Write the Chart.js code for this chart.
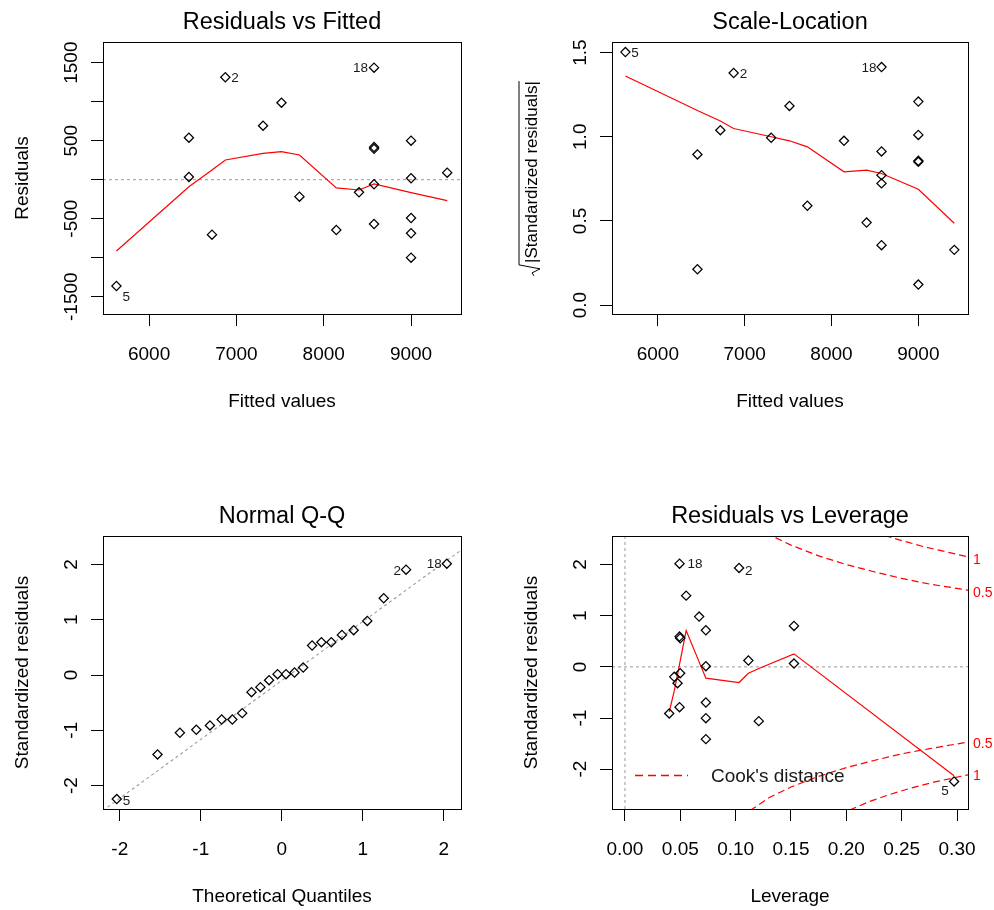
<!DOCTYPE html>
<html><head><meta charset="utf-8">
<script src="https://cdn.jsdelivr.net/npm/chart.js@4.4.1/dist/chart.umd.min.js"></script>
<style>
html,body{margin:0;padding:0;background:#fff;}
#wrap{position:relative;width:994px;height:910px;background:#fff;overflow:hidden;}
#wrap canvas{position:absolute;left:0;top:0;}
</style></head><body>
<div id="wrap">
<canvas id="c1" width="994" height="910"></canvas>
<canvas id="c2" width="994" height="910"></canvas>
<canvas id="c3" width="994" height="910"></canvas>
<canvas id="c4" width="994" height="910"></canvas>
</div>
<script>
// ---------------- DATA ----------------
// Panel 1: Residuals vs Fitted
const fittedX1 = [5626, 6873, 8576, 6456, 6456, 6720, 7305, 7516, 7722, 8144, 8404, 8576, 8576, 8576, 8576, 9000, 9000, 9000, 9000, 9000, 9414];
const residY1  = [-1363, 1313, 1436, 538, 35, -705, 692, 987, -218, -645, -162, 395, 418, -59, -568, 500, 18, -491, -687, -1000, 90];
const smoothX1 = [5626, 6456, 6720, 6873, 7305, 7516, 7722, 8144, 8404, 8576, 9000, 9414];
const smoothY1 = [-914, -90, 124, 253, 338, 359, 317, -106, -132, -55, -167, -269];
const xTicks1 = [6000, 7000, 8000, 9000];
const xTickLabels1 = ['6000', '7000', '8000', '9000'];
const yTicks1 = [-1500, -1000, -500, 0, 500, 1000, 1500];
const yLabelVals1 = [-1500, -500, 500, 1500];
const yTickLabels1 = ['-1500', '-500', '500', '1500'];
const idIndex1 = [0, 1, 2];
const idText1 = ['5', '2', '18'];

// Panel 2: Scale-Location
const fittedX2 = [5626, 6873, 8576, 7516, 6720, 7305, 6456, 8144, 8576, 9000, 9000, 9000, 9000, 8576, 8576, 7722, 8404, 8576, 9414, 6456, 9000];
const sqrtY2   = [1.503, 1.379, 1.414, 1.183, 1.039, 0.994, 0.895, 0.976, 0.913, 1.209, 1.011, 0.857, 0.851, 0.772, 0.723, 0.590, 0.490, 0.356, 0.328, 0.213, 0.122];
const smoothX2 = [5626, 6456, 6720, 6873, 7305, 7516, 7722, 8144, 8404, 8576, 9000, 9414];
const smoothY2 = [1.361, 1.156, 1.094, 1.049, 1.000, 0.976, 0.940, 0.792, 0.802, 0.782, 0.688, 0.486];
const xTicks2 = [6000, 7000, 8000, 9000];
const xTickLabels2 = ['6000', '7000', '8000', '9000'];
const yTicks2 = [0, 0.5, 1.0, 1.5];
const yLabelVals2 = [0, 0.5, 1.0, 1.5];
const yTickLabels2 = ['0.0', '0.5', '1.0', '1.5'];
const idIndex2 = [0, 1, 2];
const idText2 = ['5', '2', '18'];

// Panel 3: Normal Q-Q
const qqX = [-2.037, -1.534, -1.258, -1.055, -0.887, -0.742, -0.611, -0.489, -0.374, -0.264, -0.157, -0.052, 0.052, 0.157, 0.264, 0.374, 0.489, 0.611, 0.742, 0.887, 1.055, 1.258, 1.534, 2.037];
const qqY = [-2.243, -1.436, -1.044, -0.990, -0.912, -0.804, -0.804, -0.689, -0.310, -0.219, -0.093, 0.016, 0.016, 0.046, 0.136, 0.534, 0.594, 0.594, 0.726, 0.811, 0.979, 1.389, 1.906, 2.014];
const qqLineX = [-2.21, 2.22];
const qqLineY = [-2.453, 2.266];
const xTicks3 = [-2, -1, 0, 1, 2];
const xTickLabels3 = ['-2', '-1', '0', '1', '2'];
const yTicks3 = [-2, -1, 0, 1, 2];
const yLabelVals3 = [-2, -1, 0, 1, 2];
const yTickLabels3 = ['-2', '-1', '0', '1', '2'];
const idIndex3 = [0, 22, 23];
const idText3 = ['5', '2', '18'];

// Panel 4: Residuals vs Leverage
const levX = [0.0493, 0.1031, 0.0553, 0.0670, 0.0731, 0.0493, 0.0499, 0.1527, 0.1115, 0.0731, 0.1527, 0.0499, 0.0445, 0.0475, 0.0400, 0.0493, 0.0731, 0.0731, 0.0731, 0.1209, 0.2973];
const levY = [2.018, 1.934, 1.393, 0.983, 0.716, 0.592, 0.560, 0.801, 0.124, 0.013, 0.065, -0.124, -0.195, -0.319, -0.911, -0.788, -0.697, -1.003, -1.413, -1.061, -2.240];
const smoothX4 = [0.0400, 0.0445, 0.0475, 0.0493, 0.0499, 0.0553, 0.0670, 0.0731, 0.1031, 0.1115, 0.1209, 0.1527, 0.2973];
const smoothY4 = [-0.88, -0.475, -0.15, 0.05, 0.117, 0.709, 0.098, -0.221, -0.306, -0.124, -0.033, 0.254, -2.129];
const cookUp05X = [0.110, 0.130, 0.150, 0.175, 0.200, 0.225, 0.250, 0.275, 0.310];
const cookUp05Y = [2.84, 2.59, 2.38, 2.17, 2.00, 1.86, 1.73, 1.62, 1.50];
const cookUp1X  = [0.225, 0.250, 0.270, 0.290, 0.310];
const cookUp1Y  = [2.63, 2.47, 2.35, 2.25, 2.15];
const cookLo05X = [0.113, 0.130, 0.150, 0.175, 0.200, 0.225, 0.250, 0.275, 0.310];
const cookLo05Y = [-2.81, -2.56, -2.35, -2.14, -1.97, -1.83, -1.70, -1.60, -1.47];
const cookLo1X  = [0.203, 0.220, 0.240, 0.260, 0.280, 0.310];
const cookLo1Y  = [-2.80, -2.64, -2.49, -2.36, -2.25, -2.11];
const cookLabelText = ['1', '0.5', '0.5', '1'];
const cookLabelY = [2.08, 1.45, -1.52, -2.14];
const xTicks4 = [0, 0.05, 0.10, 0.15, 0.20, 0.25, 0.30];
const xTickLabels4 = ['0.00', '0.05', '0.10', '0.15', '0.20', '0.25', '0.30'];
const yTicks4 = [-2, -1, 0, 1, 2];
const yLabelVals4 = [-2, -1, 0, 1, 2];
const yTickLabels4 = ['-2', '-1', '0', '1', '2'];
const idIndex4 = [0, 1, 20];
const idText4 = ['18', '2', '5'];

// ---------------- STYLE / LAYOUT ----------------
const W = 994, H = 910;
const FONT = '"Liberation Sans", Arial, Helvetica, sans-serif';
const RED = '#FF0000';
const GRAY = '#9a9a9a';

function xy(xs, ys) { return xs.map((x, i) => ({ x: x, y: ys[i] })); }

function pointsDS(xs, ys) {
  return { data: xy(xs, ys), showLine: false, pointStyle: 'rectRot', pointRadius: 4.6,
    pointBorderColor: '#000', pointBackgroundColor: 'rgba(0,0,0,0)', pointBorderWidth: 1.25 };
}
function lineDS(xs, ys, color, dash, lw) {
  return { data: xy(xs, ys), showLine: true, pointRadius: 0, borderColor: color, borderWidth: lw || 1.2,
    borderDash: dash || [], tension: 0, fill: false, clip: 0 };
}

function decor(p) {
  return {
    id: 'decor',
    afterDraw(chart) {
      const ctx = chart.ctx, a = chart.chartArea, xs = chart.scales.x, ys = chart.scales.y;
      ctx.save();
      ctx.setLineDash([]);
      ctx.strokeStyle = '#000'; ctx.lineWidth = 1;
      ctx.strokeRect(Math.round(a.left) + 0.5, Math.round(a.top) + 0.5, Math.round(a.right - a.left), Math.round(a.bottom - a.top));
      const cx = (a.left + a.right) / 2, cy = (a.top + a.bottom) / 2;
      ctx.fillStyle = '#000';
      ctx.textAlign = 'center'; ctx.textBaseline = 'middle';
      // title
      ctx.font = '23.5px ' + FONT;
      ctx.fillText(p.title, cx, a.top - 19);
      // x tick labels
      ctx.font = '19px ' + FONT;
      p.xTicks.forEach((v, i) => ctx.fillText(p.xTickLabels[i], xs.getPixelForValue(v), a.bottom + 41));
      // x title
      ctx.fillText(p.xTitle, cx, a.bottom + 88);
      // y tick labels (rotated)
      p.yLabelVals.forEach((v, i) => {
        ctx.save(); ctx.translate(a.left - 31, ys.getPixelForValue(v)); ctx.rotate(-Math.PI / 2);
        ctx.fillText(p.yTickLabels[i], 0, 0); ctx.restore();
      });
      // y title
      ctx.save(); ctx.translate(a.left - 80, cy); ctx.rotate(-Math.PI / 2);
      if (p.sqrtTitle) {
        ctx.font = '17px ' + FONT;
        const wT = ctx.measureText(p.yTitle).width;
        const x0 = -wT / 2 + 6;
        ctx.fillText(p.yTitle, 6, 0);
        ctx.beginPath();
        ctx.moveTo(x0 - 13, 2); ctx.lineTo(x0 - 10, 0); ctx.lineTo(x0 - 6, 8);
        ctx.lineTo(x0 - 2, -13); ctx.lineTo(x0 + wT, -13);
        ctx.strokeStyle = '#000'; ctx.lineWidth = 1; ctx.stroke();
      } else {
        ctx.fillText(p.yTitle, 0, 0);
      }
      ctx.restore();
      // point ids
      ctx.font = '13.5px ' + FONT; ctx.fillStyle = '#1a1a1a';
      p.idIndex.forEach((idx, i) => {
        const o = p.idOff[i];
        ctx.textAlign = o[2];
        ctx.fillText(p.idText[i], xs.getPixelForValue(p.ptsX[idx]) + o[0], ys.getPixelForValue(p.ptsY[idx]) + o[1]);
      });
      if (p.extra) p.extra(ctx, a, xs, ys);
      ctx.restore();
    }
  };
}

function makeChart(id, p) {
  const box = p.box;
  return new Chart(document.getElementById(id), {
    type: 'scatter',
    data: { datasets: p.datasets },
    options: {
      responsive: false, animation: false, devicePixelRatio: 1, events: [],
      layout: { padding: { left: 0, top: box.top, right: W - box.right, bottom: 0 } },
      plugins: { legend: { display: false }, tooltip: { enabled: false }, title: { display: false } },
      scales: {
        x: { type: 'linear', position: 'bottom', min: p.xMin, max: p.xMax, bounds: 'data',
          ticks: { display: false }, border: { display: false },
          grid: { drawOnChartArea: false, drawTicks: true, tickLength: 12, color: '#000', lineWidth: 1 },
          afterBuildTicks: s => { s.ticks = p.xTicks.map(v => ({ value: v })); },
          afterFit: s => { s.height = H - box.bottom; } },
        y: { type: 'linear', position: 'left', min: p.yMin, max: p.yMax, bounds: 'data',
          ticks: { display: false }, border: { display: false },
          grid: { drawOnChartArea: false, drawTicks: true, tickLength: 12, color: '#000', lineWidth: 1 },
          afterBuildTicks: s => { s.ticks = p.yTicks.map(v => ({ value: v })); },
          afterFit: s => { s.width = box.left; } }
      }
    },
    plugins: [decor(p)]
  });
}

// Panel 1
makeChart('c1', {
  box: { left: 103, top: 42, right: 461, bottom: 314 },
  xMin: 5472, xMax: 9572, yMin: -1722, yMax: 1765,
  xTicks: xTicks1, xTickLabels: xTickLabels1, yTicks: yTicks1, yLabelVals: yLabelVals1, yTickLabels: yTickLabels1,
  title: 'Residuals vs Fitted', xTitle: 'Fitted values', yTitle: 'Residuals',
  ptsX: fittedX1, ptsY: residY1, idIndex: idIndex1, idText: idText1,
  idOff: [[6, 11, 'left'], [6, 1, 'left'], [-6, 1, 'right']],
  datasets: [
    pointsDS(fittedX1, residY1),
    lineDS(smoothX1, smoothY1, RED),
    lineDS([5472, 9572], [0, 0], GRAY, [3, 3], 1)
  ]
});

// Panel 2
makeChart('c2', {
  box: { left: 612, top: 42, right: 968, bottom: 314 },
  xMin: 5472, xMax: 9572, yMin: -0.053, yMax: 1.563,
  xTicks: xTicks2, xTickLabels: xTickLabels2, yTicks: yTicks2, yLabelVals: yLabelVals2, yTickLabels: yTickLabels2,
  title: 'Scale-Location', xTitle: 'Fitted values', yTitle: '|Standardized residuals|', sqrtTitle: true,
  ptsX: fittedX2, ptsY: sqrtY2, idIndex: idIndex2, idText: idText2,
  idOff: [[6, 1, 'left'], [6, 1, 'left'], [-5, 1, 'right']],
  datasets: [
    pointsDS(fittedX2, sqrtY2),
    lineDS(smoothX2, smoothY2, RED)
  ]
});

// Panel 3
makeChart('c3', {
  box: { left: 103, top: 536, right: 461, bottom: 809 },
  xMin: -2.207, xMax: 2.212, yMin: -2.423, yMax: 2.515,
  xTicks: xTicks3, xTickLabels: xTickLabels3, yTicks: yTicks3, yLabelVals: yLabelVals3, yTickLabels: yTickLabels3,
  title: 'Normal Q-Q', xTitle: 'Theoretical Quantiles', yTitle: 'Standardized residuals',
  ptsX: qqX, ptsY: qqY, idIndex: idIndex3, idText: idText3,
  idOff: [[6, 2, 'left'], [-5, 2, 'right'], [-5, 1, 'right']],
  datasets: [
    pointsDS(qqX, qqY),
    lineDS(qqLineX, qqLineY, GRAY, [3, 3], 1.1)
  ]
});

// Panel 4
makeChart('c4', {
  box: { left: 612, top: 536, right: 968, bottom: 809 },
  xMin: -0.0117, xMax: 0.3099, yMin: -2.779, yMax: 2.559,
  xTicks: xTicks4, xTickLabels: xTickLabels4, yTicks: yTicks4, yLabelVals: yLabelVals4, yTickLabels: yTickLabels4,
  title: 'Residuals vs Leverage', xTitle: 'Leverage', yTitle: 'Standardized residuals',
  ptsX: levX, ptsY: levY, idIndex: idIndex4, idText: idText4,
  idOff: [[8, 1, 'left'], [6, 3, 'left'], [-9, 10, 'center']],
  datasets: [
    pointsDS(levX, levY),
    lineDS(smoothX4, smoothY4, RED),
    lineDS(cookUp05X, cookUp05Y, RED, [7, 4]),
    lineDS(cookUp1X, cookUp1Y, RED, [7, 4]),
    lineDS(cookLo05X, cookLo05Y, RED, [7, 4]),
    lineDS(cookLo1X, cookLo1Y, RED, [7, 4]),
    lineDS([-0.0117, 0.3099], [0, 0], GRAY, [3, 3], 1),
    lineDS([0, 0], [-2.779, 2.559], GRAY, [3, 3], 1)
  ],
  extra: (ctx, a, xs, ys) => {
    ctx.font = '14px ' + FONT; ctx.fillStyle = RED; ctx.textAlign = 'left'; ctx.textBaseline = 'middle';
    cookLabelText.forEach((t, i) => ctx.fillText(t, a.right + 5, ys.getPixelForValue(cookLabelY[i])));
    // legend
    ctx.strokeStyle = RED; ctx.lineWidth = 1.4; ctx.setLineDash([8, 5]);
    ctx.beginPath(); ctx.moveTo(a.left + 23, 775.5); ctx.lineTo(a.left + 76, 775.5); ctx.stroke();
    ctx.setLineDash([]);
    ctx.font = '19px ' + FONT; ctx.fillStyle = '#1a1a1a';
    ctx.fillText("Cook's distance", a.left + 99, 777);
  }
});
</script>
</body></html>
